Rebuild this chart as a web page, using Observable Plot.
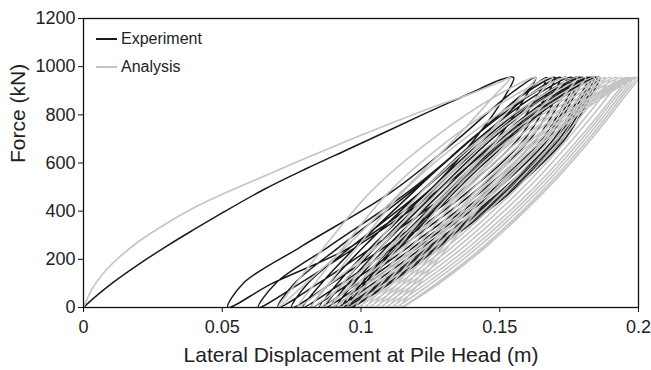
<!DOCTYPE html>
<html>
<head>
<meta charset="utf-8">
<script src="https://cdn.jsdelivr.net/npm/d3@7"></script>
<script src="https://cdn.jsdelivr.net/npm/@observablehq/plot@0.6"></script>
<style>
  html, body { margin: 0; padding: 0; background: #fff; }
  #chart { position: relative; width: 651px; height: 370px; font-family: "Liberation Sans", Arial, sans-serif; }
  #legend { position: absolute; left: 96px; top: 25px; font-size: 16px; color: #222; }
  #legend div { display: flex; align-items: center; height: 28px; }
  #legend svg { margin-right: 4px; }
</style>
</head>
<body>
<div id="chart">
  <div id="legend"></div>
</div>
<script>
// Force levels (kN) at which each branch of a cycle is sampled
const forceUp = [0, 100, 250, 480, 700, 880, 955];
const forceDown = [955, 880, 700, 480, 250, 100, 0];

// ---- Experiment ----
const expLoadX = [0, 0.004, 0.010, 0.020, 0.030, 0.040, 0.050, 0.065, 0.080, 0.095, 0.110, 0.122, 0.132, 0.142, 0.150, 0.155];
const expLoadF = [0, 42, 98, 180, 255, 325, 393, 490, 575, 655, 735, 800, 852, 903, 945, 955];
// unloading branches, peak -> residual (x at forceDown)
const expUnloadX = [
  [0.155, 0.152, 0.141, 0.124, 0.096, 0.068, 0.052],
  [0.163, 0.1595, 0.149, 0.127, 0.098, 0.078, 0.063],
  [0.167, 0.1636, 0.1534, 0.1321, 0.104, 0.0846, 0.070],
  [0.170, 0.1667, 0.1567, 0.1358, 0.1083, 0.0893, 0.075],
  [0.172, 0.1687, 0.159, 0.1385, 0.1116, 0.093, 0.079],
  [0.174, 0.1708, 0.1611, 0.1409, 0.1142, 0.0958, 0.082],
  [0.176, 0.1728, 0.1633, 0.1432, 0.1169, 0.0987, 0.085],
  [0.178, 0.1748, 0.1653, 0.1452, 0.1189, 0.1007, 0.087],
  [0.179, 0.1759, 0.1664, 0.1466, 0.1205, 0.1025, 0.089],
  [0.180, 0.1769, 0.1675, 0.148, 0.1222, 0.1044, 0.091],
  [0.182, 0.1789, 0.1695, 0.150, 0.1242, 0.1064, 0.093],
  [0.183, 0.1799, 0.1705, 0.151, 0.1252, 0.1074, 0.094],
  [0.184, 0.1809, 0.1715, 0.152, 0.1262, 0.1084, 0.095],
  [0.185, 0.1819, 0.1725, 0.153, 0.1272, 0.1094, 0.096],
  [0.186, 0.1829, 0.1735, 0.154, 0.1282, 0.1104, 0.097]
];
// reloading branches, residual -> next peak (x at forceUp)
const expReloadX = [
  [0.052, 0.0575, 0.078, 0.111, 0.135, 0.153, 0.163],
  [0.063, 0.0692, 0.088, 0.117, 0.140, 0.1576, 0.167],
  [0.070, 0.076, 0.092, 0.118, 0.140, 0.158, 0.170],
  [0.075, 0.0808, 0.0963, 0.1216, 0.1429, 0.1604, 0.172],
  [0.079, 0.0857, 0.098, 0.1189, 0.1398, 0.1607, 0.174],
  [0.082, 0.0886, 0.1008, 0.1215, 0.1422, 0.1628, 0.176],
  [0.085, 0.0915, 0.1036, 0.1241, 0.1445, 0.165, 0.178],
  [0.087, 0.0934, 0.1054, 0.1256, 0.1459, 0.1661, 0.179],
  [0.089, 0.0954, 0.1072, 0.1272, 0.1472, 0.1673, 0.180],
  [0.091, 0.0974, 0.1092, 0.1292, 0.1492, 0.1693, 0.182],
  [0.093, 0.0993, 0.111, 0.1308, 0.1506, 0.1704, 0.183],
  [0.094, 0.1003, 0.112, 0.1318, 0.1516, 0.1714, 0.184],
  [0.095, 0.1013, 0.113, 0.1328, 0.1526, 0.1724, 0.185],
  [0.096, 0.1023, 0.114, 0.1338, 0.1536, 0.1734, 0.186]
];

// ---- Analysis ----
const anaLoadX = [0, 0.003, 0.007, 0.013, 0.020, 0.030, 0.040, 0.050, 0.064, 0.080, 0.100, 0.122, 0.140, 0.150, 0.154];
const anaLoadF = [0, 75, 140, 210, 275, 350, 415, 470, 540, 620, 715, 815, 890, 935, 955];
const anaUnloadX = [
  [0.154, 0.1481, 0.1338, 0.1145, 0.0944, 0.0801, 0.070],
  [0.163, 0.1578, 0.1441, 0.126, 0.1054, 0.089, 0.077],
  [0.169, 0.1638, 0.1499, 0.1316, 0.1107, 0.0942, 0.082],
  [0.174, 0.1687, 0.1546, 0.1362, 0.115, 0.0983, 0.086],
  [0.178, 0.1731, 0.1602, 0.1424, 0.1202, 0.1028, 0.089],
  [0.181, 0.1761, 0.1632, 0.1454, 0.1232, 0.1058, 0.092],
  [0.184, 0.1791, 0.1662, 0.1484, 0.1262, 0.1088, 0.095],
  [0.186, 0.1812, 0.1684, 0.1508, 0.1288, 0.1116, 0.098],
  [0.188, 0.1832, 0.1704, 0.1528, 0.1308, 0.1136, 0.100],
  [0.190, 0.1852, 0.1724, 0.1548, 0.1328, 0.1156, 0.102],
  [0.192, 0.1872, 0.1744, 0.1568, 0.1348, 0.1176, 0.104],
  [0.194, 0.1892, 0.1764, 0.1588, 0.1368, 0.1196, 0.106],
  [0.196, 0.1912, 0.1784, 0.1608, 0.1388, 0.1216, 0.108],
  [0.197, 0.1922, 0.1796, 0.1622, 0.1405, 0.1235, 0.110],
  [0.198, 0.1933, 0.1808, 0.1636, 0.1421, 0.1253, 0.112],
  [0.199, 0.1943, 0.182, 0.165, 0.1438, 0.1272, 0.114],
  [0.200, 0.1953, 0.183, 0.166, 0.1448, 0.1282, 0.115]
];
const anaReloadX = [
  [0.070, 0.0765, 0.0867, 0.1035, 0.1258, 0.149, 0.163],
  [0.077, 0.0834, 0.0936, 0.1101, 0.1322, 0.1552, 0.169],
  [0.082, 0.0884, 0.0986, 0.1151, 0.1372, 0.1602, 0.174],
  [0.086, 0.0934, 0.1044, 0.1219, 0.143, 0.1651, 0.178],
  [0.089, 0.0964, 0.1074, 0.1249, 0.146, 0.1681, 0.181],
  [0.092, 0.0994, 0.1104, 0.1279, 0.149, 0.1711, 0.184],
  [0.095, 0.1023, 0.1132, 0.1305, 0.1514, 0.1733, 0.186],
  [0.098, 0.1052, 0.116, 0.1331, 0.1538, 0.1754, 0.188],
  [0.100, 0.1072, 0.118, 0.1351, 0.1558, 0.1774, 0.190],
  [0.102, 0.1092, 0.120, 0.1371, 0.1578, 0.1794, 0.192],
  [0.104, 0.1112, 0.122, 0.1391, 0.1598, 0.1814, 0.194],
  [0.106, 0.1132, 0.124, 0.1411, 0.1618, 0.1834, 0.196],
  [0.108, 0.1151, 0.1258, 0.1427, 0.1632, 0.1845, 0.197],
  [0.110, 0.117, 0.1276, 0.1443, 0.1646, 0.1857, 0.198],
  [0.112, 0.119, 0.1294, 0.1459, 0.1659, 0.1868, 0.199],
  [0.114, 0.1209, 0.1312, 0.1475, 0.1673, 0.188, 0.200]
];

// Axis ticks and labels
const xTicks = [0, 0.05, 0.1, 0.15, 0.2];
const xTickLabels = ["0", "0.05", "0.1", "0.15", "0.2"];
const yTicks = [0, 200, 400, 600, 800, 1000, 1200];
const yTickLabels = ["0", "200", "400", "600", "800", "1000", "1200"];
const xTitle = "Lateral Displacement at Pile Head (m)";
const yTitle = "Force (kN)";
const seriesNames = ["Experiment", "Analysis"];
const seriesColors = ["#1b1b1b", "#c4c4c4"];

// Chain the virgin loading curve and the unload/reload cycles into one path
function buildPath(name, loadX, loadF, unloadX, reloadX) {
  const pts = loadX.map((x, i) => ({series: name, x, f: loadF[i]}));
  const push = (xs, fs) => xs.forEach((x, i) => { if (i > 0) pts.push({series: name, x, f: fs[i]}); });
  unloadX.forEach((u, k) => {
    push(u, forceDown);
    if (reloadX[k]) push(reloadX[k], forceUp);
  });
  return pts;
}

const expPath = buildPath(seriesNames[0], expLoadX, expLoadF, expUnloadX, expReloadX);
const anaPath = buildPath(seriesNames[1], anaLoadX, anaLoadF, anaUnloadX, anaReloadX);

const chart = Plot.plot({
  width: 651,
  height: 370,
  marginLeft: 83,
  marginRight: 13,
  marginTop: 18,
  marginBottom: 63,
  style: {fontFamily: "'Liberation Sans', Arial, sans-serif", color: "#222", background: "#fff"},
  x: {domain: [0, 0.2]},
  y: {domain: [0, 1200]},
  marks: [
    Plot.line(expPath, {x: "x", y: "f", stroke: seriesColors[0], strokeWidth: 1.5, curve: "catmull-rom", clip: true}),
    Plot.line(anaPath, {x: "x", y: "f", stroke: seriesColors[1], strokeWidth: 1.6, curve: "catmull-rom", clip: true}),
    Plot.frame({stroke: "#111", strokeWidth: 1.3}),
    Plot.axisX({ticks: xTicks, tickFormat: (d, i) => xTickLabels[i], tickSize: 5, tickPadding: 8, fontSize: 18, label: null, stroke: "#111"}),
    Plot.axisY({ticks: yTicks, tickFormat: (d, i) => yTickLabels[i], tickSize: 5, tickPadding: 3, fontSize: 18, label: null, stroke: "#111"}),
    Plot.text([xTitle], {frameAnchor: "bottom", dy: 54, fontSize: 21, fill: "#222"}),
    Plot.text([yTitle], {frameAnchor: "left", dx: -65, rotate: -90, fontSize: 21, fill: "#222"})
  ]
});
document.getElementById("chart").prepend(chart);

// Legend entries: short line swatch followed by the series name
const legend = document.getElementById("legend");
seriesNames.forEach((name, i) => {
  const row = document.createElement("div");
  row.innerHTML = `<svg width="21" height="4"><line x1="0" y1="2" x2="21" y2="2" stroke="${seriesColors[i]}" stroke-width="2"/></svg><span>${name}</span>`;
  legend.appendChild(row);
});
</script>
</body>
</html>
